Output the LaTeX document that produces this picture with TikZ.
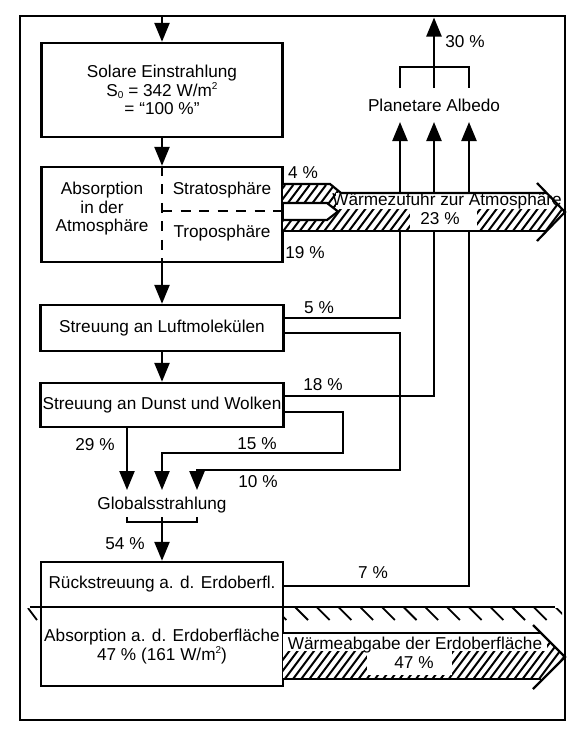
\documentclass[tikz,border=0pt]{standalone}
\usepackage{fontspec}
\setmainfont{Liberation Sans}
\usetikzlibrary{arrows.meta}
\newcommand{\smallidx}[1]{{\fontsize{10}{10}\selectfont #1}}
\begin{document}
\begin{tikzpicture}[x=1pt,y=-1pt,
  every node/.style={font=\fontsize{17.2}{18.5}\selectfont, inner sep=0pt},
  box/.style={draw, line width=2.4pt, align=center},
  conn/.style={line width=2.4pt},
  arr/.style={conn, -{Triangle[length=19pt,width=15pt]}},
  dsh/.style={line width=2pt, dash pattern=on 10pt off 8.5pt},
  hatch/.style={line width=2pt},
  outl/.style={line width=2.2pt},
  ghatch/.style={line width=1.8pt}]
\useasboundingbox (0,0) rectangle (580,737);
% frame
\draw[line width=2.6pt] (20,16) rectangle (565,720);

% boxes
\node[box, minimum width=241pt, minimum height=94pt] (solar) at (162,90)
  {Solare Einstrahlung\\S\raisebox{-2pt}{\smallidx{0}} = 342 W/m\raisebox{7pt}{\smallidx{2}}\\= “100 \%”};
\node[box, minimum width=241pt, minimum height=95pt] (atm) at (162,214.5) {};
\node[align=center] (atmtxt) at (102,209) {Absorption\\in der\\Atmosphäre};
\node (strat) at (222,190) {Stratosphäre};
\node (tropo) at (222,233) {Troposphäre};
\coordinate (dh) at (162,211);
\draw[dsh] (atm.north) -- (atm.south);
\draw[dsh] (dh) -- (dh -| atm.east);

\node[box, minimum width=243pt, minimum height=46pt] (luft) at (162,328) {Streuung an Luftmolekülen};
\node[box, minimum width=243pt, minimum height=44pt] (dunst) at (162,405) {Streuung an Dunst und Wolken};
\node (glob) at (162,505) {Globalsstrahlung};
\node[box, minimum width=242pt, minimum height=45pt] (rueck) at (162,584.5) {Rückstreuung a. d. Erdoberfl.};
\node[box, minimum width=242pt, minimum height=79pt, align=center] (absorb) at (162,646.5)
  {Absorption a. d. Erdoberfläche\\47 \% (161 W/m\raisebox{7pt}{\smallidx{2}})};

% coordinates
\coordinate (ftop) at (162,16);
\coordinate (atop) at (434,17.5);
\coordinate (bt) at (434,67);
\coordinate (bl) at (400,88);
\coordinate (bm) at (434,88);
\coordinate (br) at (469,88);
\coordinate (a1) at (400,122);
\coordinate (a2) at (434,122);
\coordinate (a3) at (469,122);
\coordinate (p5) at (400,318);
\coordinate (p10) at (400,333);
\coordinate (q10) at (400,470);
\coordinate (p18) at (434,396);
\coordinate (p15) at (343,412);
\coordinate (q15) at (343,453);
\coordinate (p7) at (469,586);
\coordinate (g1) at (127,490);
\coordinate (g2) at (162,490);
\coordinate (g3) at (197,490);
\coordinate (gl) at (127,517);
\coordinate (gm) at (162,517);
\coordinate (gr) at (197,517);
\coordinate (gb) at (162,522);

% main vertical chain
\draw[arr] (ftop) -- (solar.north);
\draw[arr] (solar.south) -- (atm.north);
\draw[arr] (atm.south) -- (luft.north);
\draw[arr] (luft.south) -- (dunst.north);

% scattering paths
\draw[arr] (p5 -| luft.east) -- (p5) -- (a1);
\draw[arr] (p10 -| luft.east) -- (p10) -- (q10) -- (q10 -| g3) -- (g3);
\draw[arr] (p18 -| dunst.east) -- (p18) -- (a2);
\draw[arr] (p15 -| dunst.east) -- (p15) -- (q15) -- (q15 -| g2) -- (g2);
\draw[arr] (g1 |- dunst.south) -- (g1);
\draw[arr] (p7 -| rueck.east) -- (p7) -- (a3);

% albedo bracket
\node (albedo) at (434,105) {Planetare Albedo};
\draw[conn] (bl) -- (bl |- bt) -- (br |- bt) -- (br);
\draw[arr] (bm) -- (atop);

% global radiation bracket
\draw[conn] (gl) -- (gl |- gb) -- (gr |- gb) -- (gr);
\draw[arr] (gm) -- (gm |- rueck.north);

% labels
\node (l30) at (465,42) {30 \%};
\node (l4) at (303,173) {4 \%};
\node (l19) at (305,253) {19 \%};
\node (l5) at (319,308) {5 \%};
\node (l18) at (323,385) {18 \%};
\node (l29) at (95,445) {29 \%};
\node (l15) at (257,444) {15 \%};
\node (l10) at (258,482) {10 \%};
\node (l54) at (125,544) {54 \%};
\node (l7) at (373,573) {7 \%};

% heat supply to atmosphere (hatched arrow)
\begin{scope}
\clip (283,184) -- (330,184) -- (341,193) -- (547,193) -- (565,212) -- (547,231) -- (283,231)
  -- (283,220) -- (327,220) -- (338,211.5) -- (327,203) -- (283,203) -- cycle;
\fill[white] (280,180) rectangle (570,240);
\foreach \i in {0,...,42} \draw[hatch] (240+\i*8.2,245) -- ++(45,-60);
\fill[white] (336,193) rectangle (552,209);
\fill[white] (410,209) rectangle (477,231);
\end{scope}
\draw[outl] (283,184) -- (330,184) -- (341,193) -- (547,193);
\draw[outl] (283,231) -- (547,231);
\draw[outl] (283,203) -- (327,203) -- (338,211.5) -- (327,220) -- (283,220);
\draw[outl] (537,183) -- (565,212) -- (537,241);
\node (wz) at (447,201) {Wärmezufuhr zur Atmosphäre};
\node (wz23) at (440,219) {23 \%};

% ground line and hatching
\draw[outl] (30,607) -- (555,607);
\begin{scope}
\clip (283,608) rectangle (562,624);
\foreach \i in {0,...,13} \draw[ghatch] (273.3+\i*21.7,607) -- ++(13,13);
\end{scope}
\begin{scope}
\clip (27,608) rectangle (40,624);
\draw[ghatch] (28,608) -- (37,620);
\end{scope}

% heat release of the surface (hatched arrow)
\begin{scope}
\clip (283,633) -- (541,633) -- (564,656) -- (541,679) -- (283,679) -- cycle;
\fill[white] (280,630) rectangle (570,690);
\foreach \i in {0,...,42} \draw[hatch] (240+\i*8.2,695) -- ++(45,-60);
\fill[white] (283,633) rectangle (547,651);
\fill[white] (367,651) rectangle (452,675);
\end{scope}
\draw[outl] (283,633) -- (541,633);
\draw[outl] (283,679) -- (541,679);
\draw[outl] (533,625) -- (565,657) -- (533,689);
\node (wa) at (415,645) {Wärmeabgabe der Erdoberfläche};
\node (wa47) at (414,663) {47 \%};
\end{tikzpicture}
\end{document}
